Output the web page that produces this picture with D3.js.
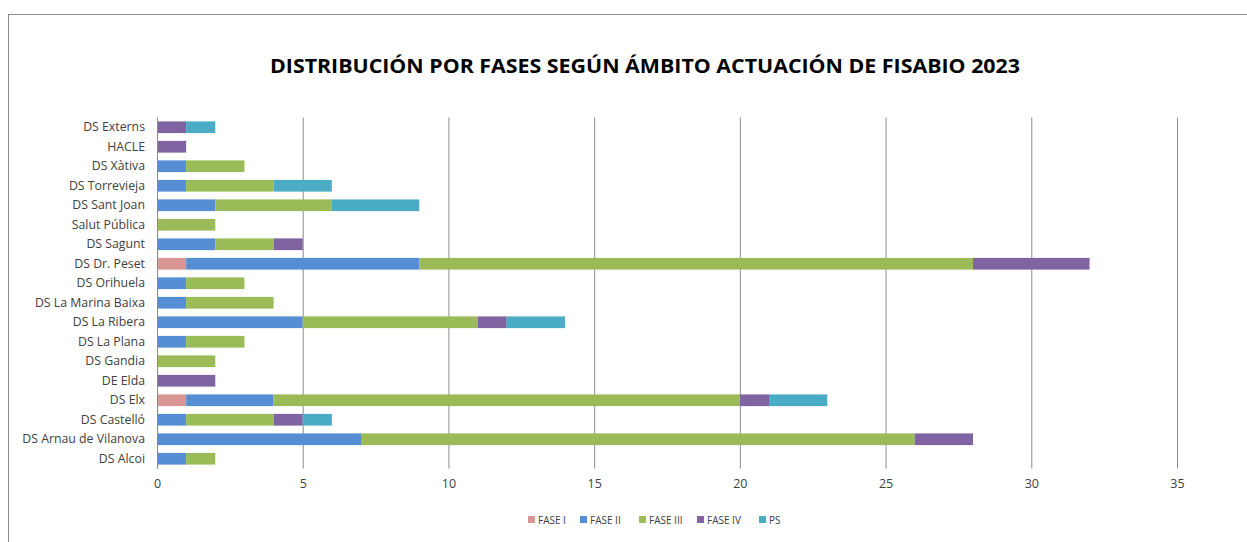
<!DOCTYPE html>
<html>
<head>
<meta charset="utf-8">
<script src="https://cdn.jsdelivr.net/npm/d3@7"></script>
<style>
  body { margin: 0; background: #fff; }
  svg { font-family: "Open Sans", "Noto Sans", sans-serif; }
</style>
</head>
<body>
<svg></svg>
<script>
// categories, bottom to top as in the chart
var districts = [
  "DS Alcoi", "DS Arnau de Vilanova", "DS Castelló", "DS Elx", "DE Elda",
  "DS Gandia", "DS La Plana", "DS La Ribera", "DS La Marina Baixa", "DS Orihuela",
  "DS Dr. Peset", "DS Sagunt", "Salut Pública", "DS Sant Joan", "DS Torrevieja",
  "DS Xàtiva", "HACLE", "DS Externs"
];
var phases = ["FASE I", "FASE II", "FASE III", "FASE IV", "PS"];

var faseI   = [0, 0, 0, 1, 0, 0, 0, 0, 0, 0, 1, 0, 0, 0, 0, 0, 0, 0];
var faseII  = [1, 7, 1, 3, 0, 0, 1, 5, 1, 1, 8, 2, 0, 2, 1, 1, 0, 0];
var faseIII = [1, 19, 3, 16, 0, 2, 2, 6, 3, 2, 19, 2, 2, 4, 3, 2, 0, 0];
var faseIV  = [0, 2, 1, 1, 2, 0, 0, 1, 0, 0, 4, 1, 0, 0, 0, 0, 1, 1];
var ps      = [0, 0, 1, 2, 0, 0, 0, 2, 0, 0, 0, 0, 0, 3, 2, 0, 0, 1];

var xTicks = [0, 5, 10, 15, 20, 25, 30, 35];
var colors = ["#D99694", "#558ED5", "#9BBB59", "#8064A2", "#4BACC6"];

var width = 1247;
var height = 542;
var plotLeft = 157, plotRight = 1177, plotTop = 117.5, plotBottom = 468.5;

var rows = districts.map(function(d, i) {
  return {
    name: d,
    "FASE I": faseI[i],
    "FASE II": faseII[i],
    "FASE III": faseIII[i],
    "FASE IV": faseIV[i],
    "PS": ps[i]
  };
});

var stacked = d3.stack().keys(phases)(rows);

var svg = d3.select("svg")
  .attr("width", width)
  .attr("height", height);

// chart frame
svg.append("rect")
  .attr("x", 8.5)
  .attr("y", 14.5)
  .attr("width", width + 10)
  .attr("height", height + 10)
  .attr("fill", "#fff")
  .attr("stroke", "#8c8c8c")
  .attr("stroke-width", 1);

var xScale = d3.scaleLinear()
  .domain([0, 35])
  .range([plotLeft, plotRight]);

var yScale = d3.scaleBand()
  .domain(districts.slice().reverse())
  .range([plotTop, plotBottom])
  .paddingInner(0.4)
  .paddingOuter(0.2);

var colorScale = d3.scaleOrdinal()
  .domain(phases)
  .range(colors);

// gridlines
var xAxis = d3.axisBottom(xScale)
  .tickValues(xTicks)
  .tickSize(-(plotBottom - plotTop))
  .tickSizeOuter(0)
  .tickPadding(11);

var gx = svg.append("g")
  .attr("transform", `translate(0, ${plotBottom})`)
  .call(xAxis);
gx.select(".domain").remove();
gx.selectAll("line").attr("stroke", "#8c8c8c");
gx.selectAll("text")
  .attr("fill", "#404040")
  .style("font-family", "'Open Sans', sans-serif")
  .style("font-size", "12.5px");

// bars
svg.append("g")
  .selectAll("g")
  .data(stacked)
  .enter()
  .append("g")
   .attr("fill", d => colorScale(d.key))
  .selectAll("rect")
  .data(d => d)
  .enter()
  .append("rect")
   .attr("x", d => xScale(d[0]))
   .attr("y", d => yScale(d.data.name))
   .attr("width", d => xScale(d[1]) - xScale(d[0]))
   .attr("height", yScale.bandwidth());

// category labels
var yAxis = d3.axisLeft(yScale)
  .tickSize(0)
  .tickPadding(12);

var gy = svg.append("g")
  .attr("transform", `translate(${plotLeft}, 0)`)
  .call(yAxis);
gy.select(".domain")
  .attr("stroke", "#8c8c8c");
gy.selectAll("text")
  .attr("fill", "#404040")
  .style("font-family", "'Open Sans', sans-serif")
  .style("font-size", "12.3px");

// title
svg.append("text")
  .attr("x", 645)
  .attr("y", 73)
  .attr("text-anchor", "middle")
  .attr("textLength", 750)
  .attr("lengthAdjust", "spacingAndGlyphs")
  .style("font-size", "20px")
  .style("font-weight", "bold")
  .attr("fill", "#000")
  .text("DISTRIBUCIÓN POR FASES SEGÚN ÁMBITO ACTUACIÓN DE FISABIO 2023");

// legend
var legendX = [528, 580, 639, 697, 759];
var legend = svg.append("g")
  .selectAll("g")
  .data(phases)
  .enter()
  .append("g")
   .attr("transform", (d, i) => `translate(${legendX[i]}, 520)`);

legend.append("rect")
  .attr("x", 0)
  .attr("y", -4)
  .attr("width", 7)
  .attr("height", 7)
  .attr("fill", d => colorScale(d));

legend.append("text")
  .attr("x", 10)
  .attr("y", 3.5)
  .attr("fill", "#404040")
  .style("font-size", "10px")
  .text(d => d);
</script>
</body>
</html>
